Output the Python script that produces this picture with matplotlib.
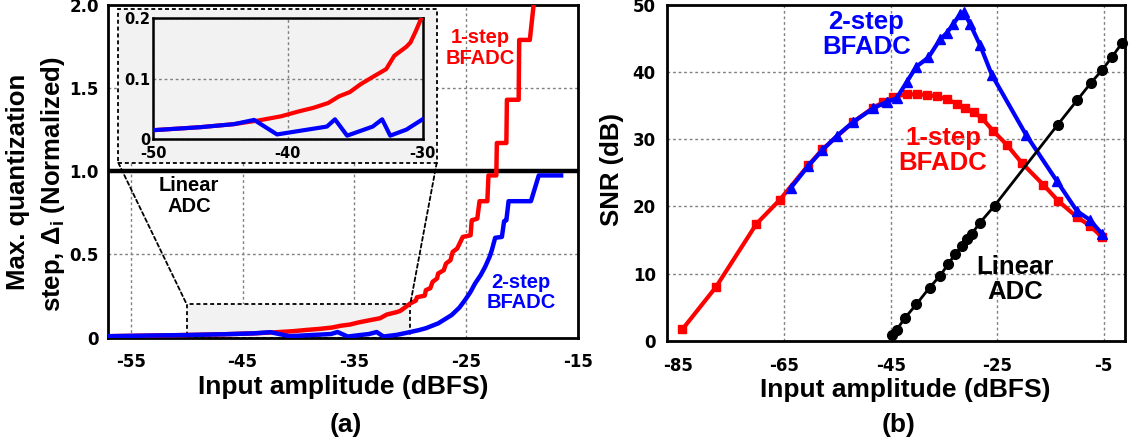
import matplotlib
matplotlib.use("Agg")
import matplotlib.pyplot as plt
from matplotlib.patches import Rectangle, ConnectionPatch

plt.rcParams.update({
    "font.family": ["Liberation Sans", "DejaVu Sans"],
    "font.weight": "bold",
    "mathtext.fontset": "custom",
    "mathtext.rm": "Liberation Sans:bold",
    "mathtext.it": "Liberation Sans:bold",
    "mathtext.bf": "Liberation Sans:bold",
})

# ---------------- (a) maximum quantization step ----------------
step1_x = [-57, -55, -52, -50, -46.5, -44, -42.2, -40.5, -39.2, -38.1, -37.0, -36.2,
           -35.4, -34.6, -33.7, -32.7, -32.1, -31.2, -30.9, -30.5, -30.0, -29.5, -29.4,
           -28.7, -28.6, -28.2, -28.0, -27.6, -27.5, -27.0, -26.8, -26.4, -26.2, -25.8,
           -25.3, -24.6, -24.5, -24.0, -23.8, -23.1, -23.0, -22.3, -22.25, -21.4,
           -21.35, -20.3, -20.25, -19.3, -18.8]
step1_y = [0.008, 0.010, 0.013, 0.015, 0.020, 0.025, 0.031, 0.038, 0.046, 0.052, 0.060, 0.071,
           0.078, 0.091, 0.103, 0.116, 0.138, 0.153, 0.160, 0.179, 0.205, 0.222, 0.242,
           0.252, 0.285, 0.297, 0.335, 0.355, 0.385, 0.405, 0.445, 0.465, 0.515, 0.535,
           0.605, 0.615, 0.705, 0.715, 0.82, 0.82, 0.975, 0.975, 1.17, 1.17,
           1.43, 1.43, 1.79, 1.79, 2.1]

step2_x = [-57, -55, -52, -50, -46.5, -44, -42.5, -40.8, -39.1, -37.1, -36.5, -35.6,
           -33.7, -33.0, -32.4, -31.2, -30.0, -29.2, -28.6, -27.5, -26.3, -25.6, -25.1,
           -24.6, -24.2, -23.7, -23.3, -22.9, -22.7, -22.4, -21.8, -21.6, -21.4, -21.2,
           -19.2, -18.5, -16.5]
step2_y = [0.008, 0.010, 0.013, 0.015, 0.020, 0.025, 0.032, 0.008, 0.014, 0.021, 0.033, 0.006,
           0.021, 0.033, 0.006, 0.016, 0.033, 0.045, 0.056, 0.085, 0.135, 0.18, 0.225,
           0.275, 0.325, 0.375, 0.425, 0.485, 0.525, 0.60, 0.605, 0.70, 0.705, 0.82,
           0.82, 0.975, 0.975]

linear_a_x = [-57, -15]
linear_a_y = [1.0, 1.0]

a_xticks = [-55, -45, -35, -25, -15]
a_yticks = [0, 0.5, 1.0, 1.5, 2.0]
a_ytick_labels = ["0", "0.5", "1.0", "1.5", "2.0"]
zoom_xticks = [-50, -40, -30]
zoom_yticks = [0, 0.1, 0.2]
zoom_ytick_labels = ["0", "0.1", "0.2"]

# ---------------- (b) SNR ----------------
snr1_x = [-84.1, -77.8, -70.2, -65.8, -60.5, -57.8, -52.0, -48.3, -46.4, -44.5, -42.0,
          -40.1, -38.2, -36.3, -34.5, -32.6, -31.0, -29.4, -27.9, -25.7, -23.2, -20.4,
          -16.3, -13.5, -10.0, -7.5, -5.3]
snr1_y = [1.7, 8.0, 17.4, 21.0, 26.1, 28.5, 32.6, 34.7, 35.5, 36.3, 36.7,
          36.7, 36.6, 36.4, 36.0, 35.3, 34.7, 34.0, 33.2, 31.2, 29.2, 26.5,
          23.2, 20.8, 18.4, 17.1, 15.4]

snr2_x = [-63.8, -60.5, -57.8, -55.1, -52.0, -48.3, -45.7, -43.9, -42.0, -40.2, -37.9,
          -35.7, -34.5, -33.2, -32.0, -31.2, -30.1, -28.2, -26.0, -19.6, -13.8, -10.0,
          -7.6, -5.3]
snr2_y = [22.7, 26.0, 28.4, 30.5, 32.6, 34.6, 35.6, 36.1, 38.5, 40.8, 42.2,
          44.9, 45.8, 47.2, 48.6, 48.9, 47.2, 44.0, 39.6, 30.7, 23.8, 19.3,
          18.0, 15.9]

snr_lin_x = [-44.8, -43.9, -42.3, -40.2, -37.7, -35.7, -34.2, -32.9, -31.6, -30.7, -29.8,
             -28.2, -25.5, -13.6, -10.0, -7.4, -5.3, -3.4, -1.5]
snr_lin_y = [0.9, 1.6, 3.4, 5.4, 7.9, 9.7, 11.4, 12.9, 14.1, 15.1, 15.9,
             17.6, 20.1, 32.2, 35.8, 38.4, 40.3, 42.3, 44.4]

b_xticks = [-85, -65, -45, -25, -5]
b_yticks = [0, 10, 20, 30, 40, 50]

RED = "#ff0000"
BLUE = "#0000ff"
GRID = dict(color="#808080", linestyle=(0, (2, 2)), linewidth=1.0)
DASH = (0, (2.2, 1.6))
TICKFONT = dict(family="DejaVu Sans", weight="bold")

fig = plt.figure(figsize=(11.32, 4.43), dpi=100)


def style_axes(ax, spine_w=2.0):
    for s in ax.spines.values():
        s.set_linewidth(spine_w)
        s.set_color("black")
    ax.set_axisbelow(True)
    ax.grid(True, **GRID)
    ax.tick_params(length=0)


# ---- panel (a) ----
ax1 = fig.add_axes([0.0958, 0.2381, 0.4147, 0.7506])
style_axes(ax1)
ax1.set_xlim(-57, -15)
ax1.set_ylim(0, 2.0)
ax1.set_xticks(a_xticks)
ax1.set_xticklabels([str(v) for v in a_xticks], fontsize=12, **TICKFONT)
ax1.set_yticks(a_yticks)
ax1.set_yticklabels(a_ytick_labels, fontsize=12, **TICKFONT)
ax1.tick_params(axis="x", pad=11)
ax1.tick_params(axis="y", pad=7)

ax1.add_patch(Rectangle((-50, 0), 20, 0.2, facecolor="#f2f2f2", edgecolor="black",
                        linestyle=DASH, linewidth=1.3, zorder=1.5))
ax1.plot(linear_a_x, linear_a_y, color="black", lw=3.2, zorder=3, solid_capstyle="butt")
ax1.plot(step1_x, step1_y, color=RED, lw=3.2, zorder=4)
ax1.plot(step2_x, step2_y, color=BLUE, lw=3.2, zorder=5)

ax1.text(-23.7, 1.74, "1-step\nBFADC", color=RED, fontsize=14.5, ha="center", va="center",
         linespacing=1.1, zorder=6)
ax1.text(-20.1, 0.27, "2-step\nBFADC", color=BLUE, fontsize=14.5, ha="center", va="center",
         linespacing=1.1, zorder=6)
ax1.text(-49.8, 0.85, "Linear\nADC", color="black", fontsize=14.5, ha="center", va="center",
         linespacing=1.1, zorder=6)

# magnified region: frame, connectors and inset
box = Rectangle((0.1045, 0.6327), 0.2813, 0.3463, transform=fig.transFigure,
                facecolor="#f2f2f2", edgecolor="black", linestyle=DASH, linewidth=1.3,
                zorder=3)
fig.add_artist(box)
for fx, dx in [(0.1045, -50), (0.1045 + 0.2813, -30)]:
    con = ConnectionPatch(xyA=(fx, 0.6327), coordsA=fig.transFigure,
                          xyB=(dx, 0.2), coordsB=ax1.transData,
                          color="black", linestyle=DASH, linewidth=1.3, zorder=3)
    fig.add_artist(con)

axin = fig.add_axes([0.1352, 0.6856, 0.2381, 0.2731], zorder=5)
axin.set_facecolor("#f2f2f2")
style_axes(axin, spine_w=1.8)
axin.set_xlim(-50, -30)
axin.set_ylim(0, 0.2)
axin.set_xticks(zoom_xticks)
axin.set_xticklabels([str(v) for v in zoom_xticks], fontsize=10.5, **TICKFONT)
axin.set_yticks(zoom_yticks)
axin.set_yticklabels(zoom_ytick_labels, fontsize=10.5, **TICKFONT)
axin.tick_params(axis="x", pad=5)
axin.tick_params(axis="y", pad=2)
axin.plot(step1_x, step1_y, color=RED, lw=3.0, zorder=4)
axin.plot(step2_x, step2_y, color=BLUE, lw=3.0, zorder=5)

# ---- panel (b) ----
ax2 = fig.add_axes([0.5892, 0.2309, 0.4046, 0.7578])
style_axes(ax2)
ax2.grid(False)
ax2.set_xlim(-87, -1)
ax2.set_ylim(0, 50)
ax2.set_xticks(b_xticks)
ax2.set_xticklabels([str(v) for v in b_xticks], fontsize=12, **TICKFONT)
ax2.set_yticks(b_yticks)
ax2.set_yticklabels([str(v) for v in b_yticks], fontsize=12, **TICKFONT)
ax2.tick_params(axis="x", pad=12)
ax2.tick_params(axis="y", pad=8)
for gx in b_xticks[1:]:
    ax2.axvline(gx, zorder=0.5, **GRID)
for gy in b_yticks[1:-1]:
    ax2.axhline(gy, zorder=0.5, **GRID)

ax2.plot(snr1_x, snr1_y, color=RED, lw=3.0, marker="s", ms=6, zorder=3)
ax2.plot(snr2_x, snr2_y, color=BLUE, lw=3.0, marker="^", ms=7, zorder=4)
ax2.plot(snr_lin_x, snr_lin_y, color="black", lw=2.0, marker="o", ms=7, zorder=5,
         clip_on=False)

ax2.text(-49.6, 45.6, "2-step\nBFADC", color=BLUE, fontsize=18.5, ha="center", va="center",
         linespacing=1.05, zorder=6)
ax2.text(-35.2, 28.3, "1-step\nBFADC", color=RED, fontsize=18.5, ha="center", va="center",
         linespacing=1.05, zorder=6)
ax2.text(-21.6, 9.1, "Linear\nADC", color="black", fontsize=18.5, ha="center", va="center",
         linespacing=1.05, zorder=6)

# ---- shared labels ----
H = 443.0
W = 1132.0
fig.text(18 / W, 1 - 182 / H, "Max. quantization", rotation=90, fontsize=18.5,
         ha="center", va="center")
fig.text(53 / W, 1 - 184 / H, r"step, $\Delta_{i}$ (Normalized)", rotation=90,
         fontsize=18.5, ha="center", va="center")
fig.text(612 / W, 1 - 170 / H, "SNR (dB)", rotation=90, fontsize=18.5,
         ha="center", va="center")
fig.text(343 / W, 1 - 387 / H, "Input amplitude (dBFS)", fontsize=19,
         ha="center", va="center")
fig.text(905 / W, 1 - 390 / H, "Input amplitude (dBFS)", fontsize=19,
         ha="center", va="center")
fig.text(346 / W, 1 - 425 / H, "(a)", fontsize=19, ha="center", va="center")
fig.text(899 / W, 1 - 425 / H, "(b)", fontsize=19, ha="center", va="center")

fig.savefig("out.png", dpi=100)
